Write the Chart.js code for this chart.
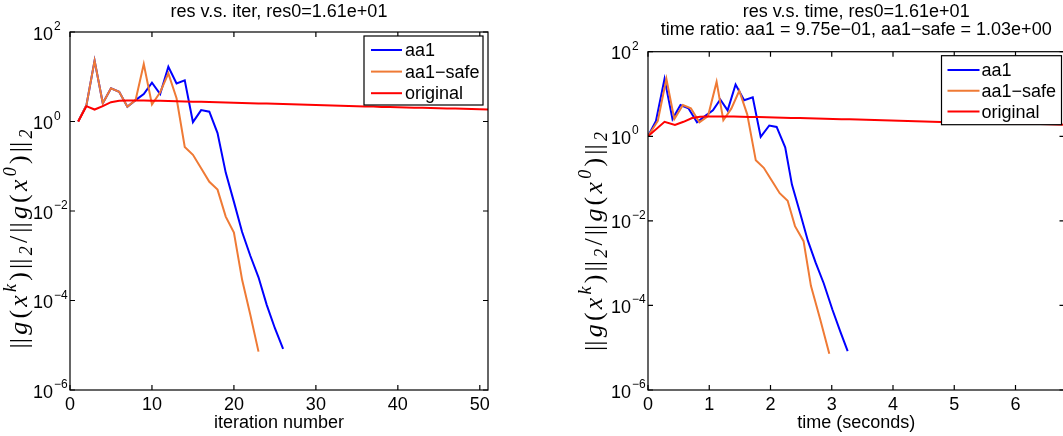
<!DOCTYPE html>
<html>
<head>
<meta charset="utf-8">
<title>residual history</title>
<script src="https://cdn.jsdelivr.net/npm/chart.js@4/dist/chart.umd.min.js"></script>
<style>
  html, body { margin: 0; padding: 0; background: #fff; overflow: hidden; }
  #wrap { position: relative; width: 1063px; height: 436px; overflow: hidden; }
  .pane { position: absolute; top: 0; }
  #iterPane { left: 0; }
  #timePane { left: 531px; }
</style>
</head>
<body>
<div id="wrap">
  <div class="pane" id="iterPane"><canvas id="iterChart" width="531" height="436"></canvas></div>
  <div class="pane" id="timePane"><canvas id="timeChart" width="560" height="436"></canvas></div>
</div>
<script>
// relative residual ||g(x^k)||/||g(x^0)|| per iteration
const resAA1 = [1.0, 2.3, 22.9, 2.55, 5.5, 4.6, 2.14, 3.0, 4.1, 7.4, 4.1, 16.7, 7.1, 8.3,
  0.97, 1.8, 1.66, 0.55, 0.072, 0.016, 0.0034, 0.001, 3.3e-4, 8.0e-5, 2.4e-5, 8.3e-6];
const resAA1Safe = [1.0, 2.3, 22.9, 2.55, 5.5, 4.6, 2.14, 3.0, 19.3, 2.4, 4.5, 11.9, 3.3,
  0.27, 0.18, 0.09, 0.045, 0.03, 0.0075, 0.0033, 2.9e-4, 4.8e-5, 7.2e-6];
const resOriginal = [1.0, 2.2, 1.85, 2.2, 2.7, 2.9, 2.95, 2.95, 2.94, 2.92, 2.9, 2.87, 2.84,
  2.81, 2.78, 2.75, 2.72, 2.69, 2.66, 2.63, 2.6, 2.57, 2.54, 2.51, 2.48, 2.45, 2.42, 2.39,
  2.36, 2.33, 2.3, 2.27, 2.24, 2.21, 2.19, 2.17, 2.15, 2.12, 2.1, 2.08, 2.06, 2.04, 2.02,
  2.0, 1.98, 1.96, 1.94, 1.92, 1.9, 1.88, 1.86];

// elapsed time (seconds) at each iteration
const timeAA1 = [0, 0.13, 0.27, 0.40, 0.53, 0.66, 0.80, 0.93, 1.06, 1.18, 1.30, 1.43, 1.57,
  1.71, 1.84, 1.98, 2.10, 2.24, 2.35, 2.48, 2.61, 2.74, 2.87, 3.01, 3.14, 3.26];
const timeAA1Safe = [0, 0.16, 0.30, 0.43, 0.57, 0.70, 0.84, 0.98, 1.12, 1.23, 1.36, 1.49,
  1.62, 1.76, 1.89, 2.02, 2.15, 2.28, 2.40, 2.54, 2.66, 2.81, 2.96];
const timeOriginal = [0, 0.27, 0.44, 0.58, 0.72, 0.85, 0.99, 1.12, 1.26, 1.40, 1.53, 1.67,
  1.80, 1.94, 2.07, 2.21, 2.34, 2.48, 2.61, 2.75, 2.89, 3.02, 3.16, 3.29, 3.43, 3.56, 3.70,
  3.83, 3.97, 4.10, 4.24, 4.37, 4.51, 4.64, 4.78, 4.91, 5.05, 5.18, 5.32, 5.46, 5.59, 5.73,
  5.86, 6.00, 6.13, 6.27, 6.40, 6.54, 6.67, 6.81, 6.94];

const seriesNames = ['aa1', 'aa1\u2212safe', 'original'];
const seriesColors = ['#0000ff', '#ef7a35', '#ff0000'];

const iterTicks = [0, 10, 20, 30, 40, 50];
const timeTicks = [0, 1, 2, 3, 4, 5, 6];
const resTicks = [1e-6, 1e-4, 1e-2, 1, 1e2];

const SANS = '"Liberation Sans", Arial, Helvetica, sans-serif';
const SERIF = '"Liberation Serif", "Times New Roman", serif';

// y label: ||g(x^k)||_2 / ||g(x^0)||_2
const yLabelParts = [
  { t: '||', s: 'r' }, { t: 'g', s: 'i' }, { t: '(', s: 'r' }, { t: 'x', s: 'i' },
  { t: 'k', s: 'sup' }, { t: ')', s: 'r' }, { t: '||', s: 'r' }, { t: '2', s: 'sub' },
  { t: '/', s: 'r' }, { t: '||', s: 'r' }, { t: 'g', s: 'i' }, { t: '(', s: 'r' },
  { t: 'x', s: 'i' }, { t: '0', s: 'sup' }, { t: ')', s: 'r' }, { t: '||', s: 'r' },
  { t: '2', s: 'sub' }
];

function partFont(p, size) {
  if (p.s === 'sup' || p.s === 'sub') return 'italic ' + Math.round(size * 0.7) + 'px ' + SERIF;
  if (p.s === 'i') return 'italic ' + size + 'px ' + SERIF;
  return size + 'px ' + SERIF;
}

function drawYLabel(ctx, cx, cy, size, gap) {
  ctx.save();
  ctx.translate(cx, cy);
  ctx.rotate(-Math.PI / 2);
  let total = 0;
  yLabelParts.forEach(p => { ctx.font = partFont(p, size); total += ctx.measureText(p.t).width; });
  total += gap * (yLabelParts.length - 1);
  let x = -total / 2;
  ctx.textAlign = 'left';
  ctx.textBaseline = 'alphabetic';
  yLabelParts.forEach(p => {
    ctx.font = partFont(p, size);
    let dy = 0;
    if (p.s === 'sup') dy = -size * 0.4;
    if (p.s === 'sub') dy = size * 0.2;
    ctx.fillText(p.t, x, size * 0.33 + dy);
    x += ctx.measureText(p.t).width + gap;
  });
  ctx.restore();
}

// boxed axes, inward ticks, 10^n labels and legend
const matlabAxes = {
  id: 'matlabAxes',
  afterDatasetsDraw(chart, args, opts) {
    const ctx = chart.ctx;
    const a = chart.chartArea;
    const xs = chart.scales.x, ys = chart.scales.y;
    ctx.save();
    ctx.strokeStyle = '#000';
    ctx.lineWidth = 1.2;
    ctx.beginPath();
    xs.ticks.forEach(t => {
      const px = xs.getPixelForValue(t.value);
      ctx.moveTo(px, a.bottom); ctx.lineTo(px, a.bottom - 5);
      ctx.moveTo(px, a.top); ctx.lineTo(px, a.top + 5);
    });
    ys.ticks.forEach(t => {
      const py = ys.getPixelForValue(t.value);
      ctx.moveTo(a.left, py); ctx.lineTo(a.left + 5, py);
      ctx.moveTo(a.right, py); ctx.lineTo(a.right - 5, py);
    });
    ctx.stroke();
    ctx.strokeRect(a.left, a.top, a.right - a.left, a.bottom - a.top);

    // 10^n tick labels
    ctx.fillStyle = '#000';
    ys.ticks.forEach(t => {
      const py = ys.getPixelForValue(t.value);
      const e = Math.round(Math.log10(t.value));
      ctx.font = '18px ' + SANS;
      ctx.textAlign = 'right';
      ctx.textBaseline = 'alphabetic';
      ctx.fillText('10', a.left - 17, py + 7.5);
      ctx.font = '12px ' + SANS;
      ctx.textAlign = 'left';
      ctx.fillText(e < 0 ? '\u2212' + (-e) : String(e), a.left - 16, py - 2);
    });

    drawYLabel(ctx, opts.yLabelX, opts.yLabelY, opts.yLabelSize, opts.yLabelGap);

    // legend box
    const lg = opts.legend;
    const bx = a.right - lg.right - lg.w;
    const by = a.top + lg.top;
    ctx.fillStyle = '#fff';
    ctx.fillRect(bx, by, lg.w, lg.h);
    ctx.lineWidth = 1.2;
    ctx.strokeRect(bx, by, lg.w, lg.h);
    chart.data.datasets.forEach((ds, i) => {
      const ry = by + lg.first + i * lg.step;
      ctx.strokeStyle = ds.borderColor;
      ctx.lineWidth = 2;
      ctx.beginPath();
      ctx.moveTo(bx + lg.pad, ry);
      ctx.lineTo(bx + lg.pad + lg.len, ry);
      ctx.stroke();
      ctx.fillStyle = '#000';
      ctx.font = '18px ' + SANS;
      ctx.textAlign = 'left';
      ctx.textBaseline = 'middle';
      ctx.fillText(ds.label, bx + lg.text, ry + 1);
    });
    ctx.restore();
  }
};

function makeSeries(xs, ys) {
  return ys.map((v, i) => ({ x: xs ? xs[i] : i + 1, y: v }));
}

function buildChart(canvasId, cfg) {
  const datasets = [
    { label: seriesNames[0], data: cfg.series[0], borderColor: seriesColors[0], order: 2 },
    { label: seriesNames[1], data: cfg.series[1], borderColor: seriesColors[1], order: 1 },
    { label: seriesNames[2], data: cfg.series[2], borderColor: seriesColors[2], order: 0 }
  ];
  datasets.forEach(d => {
    d.borderWidth = 2;
    d.pointRadius = 0;
    d.tension = 0;
    d.fill = false;
  });

  return new Chart(document.getElementById(canvasId), {
    type: 'line',
    data: { datasets: datasets },
    plugins: [matlabAxes],
    options: {
      responsive: false,
      animation: false,
      devicePixelRatio: 1,
      layout: { padding: { left: 0, right: cfg.padRight, top: 0, bottom: 0 } },
      plugins: {
        legend: { display: false },
        tooltip: { enabled: false },
        title: {
          display: true,
          text: cfg.title,
          color: '#000',
          fullSize: false,
          font: { family: SANS, size: 18, weight: 'normal', lineHeight: 1 },
          padding: { top: 3, bottom: cfg.titleGap }
        },
        matlabAxes: cfg.frame
      },
      scales: {
        x: {
          type: 'linear',
          min: 0,
          max: cfg.xMax,
          afterBuildTicks: s => { s.ticks = cfg.xTicks.map(v => ({ value: v })); },
          afterFit: s => { s.height = 46; },
          grid: { display: false, drawTicks: false },
          border: { display: false },
          ticks: { color: '#000', padding: 4, maxRotation: 0, font: { family: SANS, size: 18 } },
          title: {
            display: true,
            text: cfg.xTitle,
            color: '#000',
            font: { family: SANS, size: 18 },
            padding: { top: 0, bottom: 2.5 }
          }
        },
        y: {
          type: 'logarithmic',
          min: 1e-6,
          max: 1e2,
          afterBuildTicks: s => { s.ticks = resTicks.map(v => ({ value: v })); },
          afterFit: s => { s.width = cfg.yWidth; },
          grid: { display: false, drawTicks: false },
          border: { display: false },
          ticks: { display: false }
        }
      }
    }
  });
}

buildChart('iterChart', {
  title: 'res v.s. iter, res0=1.61e+01',
  titleGap: 11,
  xTitle: 'iteration number',
  xMax: 51,
  xTicks: iterTicks,
  yWidth: 70,
  padRight: 43,
  series: [makeSeries(null, resAA1), makeSeries(null, resAA1Safe), makeSeries(null, resOriginal)],
  frame: {
    yLabelX: 18, yLabelY: 239, yLabelSize: 26, yLabelGap: 3.2,
    legend: { right: 5, top: 4, w: 119, h: 69, first: 14, step: 21.6, pad: 7, len: 31, text: 41 }
  }
});

buildChart('timeChart', {
  title: ['res v.s. time, res0=1.61e+01', 'time ratio: aa1 = 9.75e\u221201, aa1\u2212safe = 1.03e+00'],
  titleGap: 12.7,
  xTitle: 'time (seconds)',
  xMax: 6.8,
  xTicks: timeTicks,
  yWidth: 117,
  padRight: 26.5,
  series: [makeSeries(timeAA1, resAA1), makeSeries(timeAA1Safe, resAA1Safe), makeSeries(timeOriginal, resOriginal)],
  frame: {
    yLabelX: 62, yLabelY: 241.5, yLabelSize: 26, yLabelGap: 3.2,
    legend: { right: 3, top: 4, w: 120, h: 69, first: 14.3, step: 20.8, pad: 6, len: 32, text: 40 }
  }
});
</script>
</body>
</html>
